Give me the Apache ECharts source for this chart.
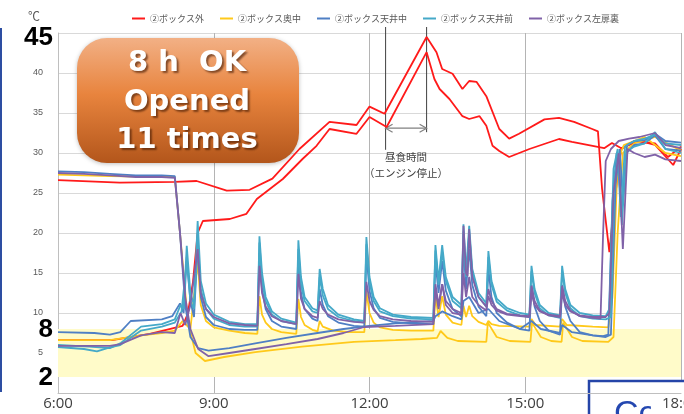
<!DOCTYPE html>
<html>
<head>
<meta charset="utf-8">
<script src="https://cdn.jsdelivr.net/npm/echarts@6.0.0/dist/echarts.min.js"></script>
<style>
html, body { margin: 0; padding: 0; background: #fff; }
#main { width: 684px; height: 414px; }
</style>
</head>
<body>
<div id="main"></div>
<script>
// 温度ログ (時刻[h], ℃)
var hourTicks = [6, 9, 12, 15, 18];
var timeLabels = ['6:00', '9:00', '12:00', '15:00', '18:00'];
var seriesNames = ['②ボックス外', '②ボックス奥中', '②ボックス天井中', '②ボックス天井前', '②ボックス左扉裏'];
var okBand = [2, 8];
var lunchStart = 12.31, lunchEnd = 13.10;

var redA = [[6,26.6],[7.19,26.3],[8.25,26.4],[8.67,26.5],[9.25,25.3],[9.69,25.4],[10.13,26.8],[10.65,30.5],[11.23,33.9],[11.75,33.5],[12.0,35.8],[12.29,34.9],[13.10,44.5],[13.29,42.6],[13.40,40.5],[13.60,39.9],[13.79,38.0],[13.92,39.0],[14.06,38.9],[14.25,37.1],[14.5,33.0],[14.69,31.8],[14.88,32.4],[15.37,34.2],[15.65,34.4],[15.94,33.9],[16.29,33.0],[16.40,32.7],[16.48,25.5],[16.62,17.6],[16.72,24],[16.85,30.5],[17.1,31.5],[17.5,31.2],[17.75,29.5],[18,30.8]];
var redB = [[6,6.6],[7.04,6.6],[7.77,7.4],[8.40,8.4],[8.50,9.9],[8.60,13.9],[8.69,20.0],[8.79,21.5],[9.31,21.75],[9.63,22.4],[9.83,24.25],[10.33,26.75],[10.71,29.25],[10.98,30.9],[11.23,33.0],[11.75,32.4],[12.0,34.5],[12.33,33.25],[13.10,42.6],[13.25,39.25],[13.35,38.0],[13.54,36.75],[13.79,34.6],[13.92,34.25],[14.12,34.6],[14.25,33.4],[14.37,30.9],[14.5,30.25],[14.69,29.5],[15.08,30.5],[15.65,31.75],[15.90,31.4],[16.52,30.6],[16.67,31.25],[16.85,30.6],[17.2,31.5],[17.5,31.0],[17.85,28.5],[18,30.5]];

var yellowA = [[6,6.6],[7.0,6.6],[7.6,7.2],[8.0,7.5],[8.25,7.8],[8.4,9.0],[8.55,8.0],[8.69,16.4],[8.75,11.0],[8.85,9.0],[9.0,8.2],[9.3,7.8],[9.6,7.5],[9.84,7.4],[9.88,12.1],[9.93,9.8],[10.0,8.8],[10.12,8.0],[10.3,7.6],[10.59,7.4],[10.63,11.75],[10.68,9.5],[10.75,8.5],[10.9,7.9],[11.0,7.7],[11.04,9.0],[11.1,8.3],[11.3,7.8],[11.6,7.6],[11.9,7.6],[11.94,12.75],[12.0,10.0],[12.08,8.8],[12.2,8.2],[12.45,7.9],[12.8,7.8],[13.23,7.8],[13.27,12.1],[13.33,9.5],[13.40,12.1],[13.47,9.8],[13.6,8.8],[13.77,8.5],[13.81,10.9],[13.86,9.5],[13.92,10.9],[13.98,9.6],[14.1,8.9],[14.25,8.5],[14.29,9.0],[14.35,8.6],[14.5,8.4],[15.08,8.3],[15.12,9.25],[15.2,8.5],[15.67,8.3],[15.71,9.25],[15.8,8.5],[16.3,8.3],[16.6,8.2],[16.68,12],[16.78,29],[16.9,31],[17.1,31.5],[17.3,32],[17.5,31],[17.7,30],[18,29.6]];
var yellowB = [[6,27.3],[7.0,27.1],[8.25,27.0],[8.35,20],[8.5,9],[8.65,5],[8.83,4.0],[9.2,4.5],[9.8,5.1],[10.7,5.8],[11.7,6.4],[12.5,6.6],[13.0,6.75],[13.3,6.9],[13.37,7.75],[13.5,6.9],[13.7,6.5],[14.25,6.4],[14.28,8.8],[14.45,7.0],[14.7,6.5],[15.1,6.4],[15.13,8.8],[15.3,7.0],[15.5,6.5],[15.7,6.4],[15.73,8.8],[15.9,7.0],[16.1,6.5],[16.6,6.4],[16.7,7],[16.78,20],[16.88,30],[17.1,31.2],[17.5,32],[18,30.3]];

var blueA = [[6,27.7],[6.5,27.6],[7.0,27.4],[7.5,27.2],[8.0,27.2],[8.25,27.1],[8.35,20],[8.45,11],[8.55,7],[8.7,5.6],[8.9,5.3],[9.3,5.6],[9.8,6.2],[10.4,6.9],[11.0,7.5],[11.5,8.0],[12.0,8.4],[12.5,8.7],[13.23,9.0],[13.27,9.6],[13.4,10.2],[13.6,9.6],[13.77,9.2],[13.81,11.5],[13.92,12],[14.1,10],[14.29,10.5],[14.5,9.0],[14.9,8.0],[15.12,9.0],[15.3,8.0],[15.67,7.5],[15.71,8.5],[15.9,7.6],[16.3,7.2],[16.5,7.1],[16.6,7.3],[16.68,24],[16.76,30],[16.86,23],[16.95,30],[17.1,31.0],[17.3,31.2],[17.5,32.2],[17.7,30.5],[18,30.3]];
var blueB = [[6,7.6],[6.7,7.5],[7.0,7.3],[7.2,7.6],[7.4,9.0],[8.0,9.2],[8.2,9.6],[8.35,11.2],[8.42,10.0],[8.48,17.0],[8.55,11.5],[8.62,9.5],[8.69,18.5],[8.75,12.0],[8.85,9.5],[9.0,8.5],[9.3,8.0],[9.6,7.9],[9.84,7.9],[9.88,17.5],[9.93,13.0],[10.0,10.5],[10.12,9.0],[10.3,8.3],[10.59,8.0],[10.63,17.0],[10.68,12.5],[10.75,10.5],[10.9,9.3],[11.0,9.0],[11.04,13.0],[11.1,11.0],[11.2,9.6],[11.4,8.8],[11.7,8.4],[11.9,8.3],[11.94,17.5],[12.0,12.8],[12.08,10.6],[12.2,9.4],[12.45,8.9],[12.8,8.7],[13.23,8.6],[13.27,16.5],[13.33,12.5],[13.40,16.5],[13.47,12.8],[13.6,10.5],[13.77,9.6],[13.81,18.5],[13.86,13.0],[13.92,18.0],[13.98,13.5],[14.1,10.8],[14.25,9.6],[14.29,15.5],[14.35,12.0],[14.45,10.0],[14.65,8.8],[14.9,8.0],[15.08,7.8],[15.12,13.5],[15.18,10.8],[15.28,9.0],[15.45,7.8],[15.67,7.3],[15.71,13.5],[15.77,10.8],[15.87,9.0],[16.05,7.6],[16.3,7.2],[16.55,7.0],[16.65,7.3],[16.74,26],[16.82,30.5],[16.88,24],[16.96,31],[17.1,31.5],[17.3,31.6],[17.5,32.4],[17.7,31.5],[18,31.3]];

var tealA = [[6,6.0],[6.6,5.8],[7.0,5.6],[7.2,6.2],[7.6,8.3],[8.0,8.6],[8.25,9.2],[8.36,11.0],[8.42,10.5],[8.48,18.4],[8.55,12.5],[8.62,11.0],[8.69,21.5],[8.75,14.0],[8.85,11.2],[9.0,9.8],[9.3,8.9],[9.6,8.6],[9.84,8.6],[9.88,19.6],[9.93,15.0],[10.0,12.0],[10.12,10.2],[10.3,9.3],[10.59,8.8],[10.63,19.1],[10.68,14.5],[10.75,12.0],[10.9,10.6],[11.0,10.3],[11.04,15.5],[11.1,13.0],[11.2,11.0],[11.4,9.8],[11.7,9.2],[11.9,9.0],[11.94,19.5],[12.0,14.5],[12.08,12.0],[12.2,10.6],[12.45,9.8],[12.8,9.5],[13.23,9.4],[13.27,18.5],[13.33,14.0],[13.40,18.5],[13.47,14.5],[13.6,12.0],[13.77,11.0],[13.81,21.1],[13.86,15.0],[13.92,20.9],[13.98,15.5],[14.1,12.5],[14.25,11.2],[14.29,17.75],[14.35,14.0],[14.45,11.8],[14.65,10.6],[14.9,10.0],[15.08,9.8],[15.12,15.9],[15.18,13.0],[15.28,11.0],[15.45,10.0],[15.67,9.7],[15.71,15.9],[15.77,13.0],[15.87,11.0],[16.05,10.0],[16.3,9.7],[16.55,9.6],[16.62,10.5],[16.7,28],[16.78,30.5],[16.84,22],[16.92,30.8],[17.1,31.5],[17.3,31.8],[17.5,32.3],[17.7,31.2],[18,31.0]];
var tealB = [[6,5.75],[6.5,5.5],[6.75,5.2],[7.0,5.7],[7.2,6.0],[7.6,7.8],[8.0,8.3],[8.25,8.8],[8.38,10.2],[8.48,16.5],[8.55,11.5],[8.62,10.5],[8.69,19.0],[8.75,13.0],[8.85,10.5],[9.0,9.3],[9.3,8.5],[9.6,8.3],[9.84,8.3],[9.88,18.8],[9.93,14.0],[10.0,11.5],[10.12,9.8],[10.3,9.0],[10.59,8.6],[10.63,18.0],[10.68,13.5],[10.75,11.5],[10.9,10.2],[11.0,10.0],[11.04,14.5],[11.1,12.2],[11.2,10.5],[11.4,9.5],[11.7,9.0],[11.9,8.8],[11.94,18.6],[12.0,13.8],[12.08,11.5],[12.2,10.2],[12.45,9.6],[12.8,9.3],[13.23,9.2],[13.27,17.8],[13.33,13.5],[13.40,17.6],[13.47,14.0],[13.6,11.5],[13.77,10.6],[13.81,20.2],[13.86,14.5],[13.92,20.0],[13.98,15.0],[14.1,12.0],[14.25,10.8],[14.29,17.0],[14.35,13.5],[14.45,11.4],[14.65,10.3],[14.9,9.7],[15.08,9.5],[15.12,15.2],[15.18,12.5],[15.28,10.6],[15.45,9.7],[15.67,9.4],[15.71,15.2],[15.77,12.5],[15.87,10.6],[16.05,9.6],[16.3,9.3],[16.55,9.2],[16.65,9.5],[16.72,27],[16.8,30],[16.86,21],[16.95,30.2],[17.1,30.8],[17.3,31.2],[17.5,32.6],[17.7,30.5],[18,30.0]];

var purpleA = [[6,27.5],[6.5,27.4],[7.0,27.2],[7.5,27.0],[8.0,27.0],[8.25,26.9],[8.35,20],[8.45,12],[8.55,8],[8.7,5.5],[8.9,4.6],[9.3,5.0],[9.8,5.5],[10.4,6.1],[11.0,6.75],[11.5,7.5],[11.9,8.25],[12.5,8.4],[13.23,8.6],[13.27,13.0],[13.33,10.5],[13.40,13.6],[13.47,11.0],[13.6,10.0],[13.77,9.8],[13.81,20.9],[13.86,15.0],[13.89,14.6],[13.92,20.5],[13.98,14.5],[14.1,12.0],[14.25,10.8],[14.29,13.0],[14.35,11.5],[14.45,10.5],[14.65,9.9],[14.9,9.7],[15.08,9.6],[15.12,12.5],[15.18,11.0],[15.28,10.2],[15.45,9.8],[15.67,9.6],[15.71,12.5],[15.77,11.0],[15.87,10.2],[16.05,9.7],[16.3,9.5],[16.55,9.5],[16.62,10],[16.7,25],[16.8,30],[16.88,18],[16.97,30.5],[17.1,30.0],[17.3,29.5],[17.5,29.8],[17.7,29.2],[18,29.0]];
var purpleB = [[6,5.9],[7.0,5.9],[7.2,6.1],[7.6,7.2],[8.0,7.6],[8.25,7.5],[8.36,10.0],[8.45,8.5],[8.55,11],[8.69,18.0],[8.75,12.5],[8.85,10.5],[9.0,9.5],[9.3,8.7],[9.6,8.5],[9.84,8.4],[9.88,15.9],[9.93,12.5],[10.0,10.8],[10.12,9.6],[10.3,9.0],[10.59,8.6],[10.63,14.9],[10.68,11.8],[10.75,10.5],[10.9,9.6],[11.0,9.4],[11.04,11.5],[11.1,10.5],[11.2,9.8],[11.4,9.2],[11.7,8.9],[11.9,8.8],[11.94,13.9],[12.0,11.5],[12.08,10.4],[12.2,9.6],[12.45,9.2],[12.8,9.0],[13.23,8.9],[13.27,13.6],[13.33,11.0],[13.40,13.6],[13.47,11.5],[13.6,10.5],[13.77,10.0],[13.81,15.0],[13.86,12.0],[13.92,14.5],[13.98,12.0],[14.1,11.0],[14.25,10.3],[14.29,12.1],[14.35,11.0],[14.45,10.3],[14.65,9.8],[14.9,9.6],[15.08,9.5],[15.12,13.4],[15.18,11.5],[15.28,10.3],[15.45,9.7],[15.67,9.5],[15.71,13.4],[15.77,11.5],[15.87,10.3],[16.05,9.6],[16.3,9.4],[16.45,9.3],[16.5,20],[16.55,29],[16.65,30.5],[16.8,31.5],[17.0,31.8],[17.2,32.0],[17.5,32.5],[17.7,31.0],[18,30.6]];

var colors = ['#FF1A1A', '#FFC91A', '#4F7FC4', '#45A9C8', '#8062A8'];

function line(idx, data) {
    return {
        name: seriesNames[idx],
        type: 'line',
        data: data,
        symbol: 'none',
        showSymbol: false,
        animation: false,
        lineStyle: { color: colors[idx], width: 1.8 },
        itemStyle: { color: colors[idx] }
    };
}

var series = [
    line(0, redA), line(0, redB),
    line(1, yellowA), line(1, yellowB),
    line(2, blueA), line(2, blueB),
    line(3, tealA), line(3, tealB),
    line(4, purpleA), line(4, purpleB)
];
// 2℃〜8℃ の帯
series[0].markArea = {
    silent: true,
    itemStyle: { color: '#FFFBC9' },
    data: [[{ yAxis: okBand[0] }, { yAxis: okBand[1] }]]
};

var chart = echarts.init(document.getElementById('main'));
chart.setOption({
    backgroundColor: '#fff',
    animation: false,
    grid: { left: 58, right: 3, top: 33, bottom: 21 },
    legend: {
        data: seriesNames,
        top: 9,
        left: 127,
        icon: 'rect',
        itemWidth: 13,
        itemHeight: 2,
        itemGap: 16,
        textStyle: { fontSize: 9, color: '#595959', fontFamily: 'Noto Sans CJK JP' }
    },
    xAxis: {
        type: 'value',
        min: 6, max: 18, interval: 3,
        axisLine: { show: true, lineStyle: { color: '#BFBFBF' } },
        axisTick: { show: false },
        axisLabel: { show: false },
        splitLine: { show: true, lineStyle: { color: '#B4B4B4', width: 1 } }
    },
    yAxis: {
        type: 'value',
        min: 0, max: 45, interval: 5,
        axisLine: { show: true, lineStyle: { color: '#BFBFBF' } },
        axisTick: { show: false },
        axisLabel: {
            fontSize: 9, color: '#595959', margin: 15,
            formatter: function (v) { return (v === 0 || v === 45) ? '' : v; }
        },
        splitLine: { lineStyle: { color: '#D9D9D9', width: 1 } }
    },
    series: series
});

// 注記 (ピクセル位置は軸から算出)
function px(t, v) { return chart.convertToPixel({ gridIndex: 0 }, [t, v]); }
var g = [];
var ls = px(lunchStart, 33.1), le = px(lunchEnd, 33.1);
var gridTop = px(6, 45)[1];
g.push({ type: 'line', shape: { x1: ls[0], y1: gridTop - 6, x2: ls[0], y2: px(6, 30.4)[1] }, style: { stroke: '#404040', lineWidth: 1 } });
g.push({ type: 'line', shape: { x1: le[0], y1: gridTop - 6, x2: le[0], y2: px(6, 32.6)[1] }, style: { stroke: '#404040', lineWidth: 1 } });
g.push({ type: 'line', shape: { x1: ls[0], y1: ls[1], x2: le[0], y2: le[1] }, style: { stroke: '#808080', lineWidth: 1.2 } });
g.push({ type: 'polyline', shape: { points: [[ls[0] + 7, ls[1] - 4], [ls[0], ls[1]], [ls[0] + 7, ls[1] + 4]] }, style: { stroke: '#808080', lineWidth: 1.2, fill: null } });
g.push({ type: 'polyline', shape: { points: [[le[0] - 7, le[1] - 4], [le[0], le[1]], [le[0] - 7, le[1] + 4]] }, style: { stroke: '#808080', lineWidth: 1.2, fill: null } });
var mid = (ls[0] + le[0]) / 2;
g.push({ type: 'text', style: { text: '昼食時間', x: mid, y: px(6, 29.5)[1], align: 'center', verticalAlign: 'middle', fontSize: 10.5, fill: '#404040', fontFamily: 'Noto Sans CJK JP' } });
g.push({ type: 'text', style: { text: '（エンジン停止）', x: mid, y: px(6, 27.5)[1], align: 'center', verticalAlign: 'middle', fontSize: 10.5, fill: '#404040', fontFamily: 'Noto Sans CJK JP' } });

// ℃
g.push({ type: 'text', style: { text: '℃', x: 34, y: 16, align: 'center', verticalAlign: 'middle', fontSize: 12, fill: '#595959', fontFamily: 'Noto Sans CJK JP' } });

// 大きい目盛り 45 / 8 / 2
[45, okBand[1], okBand[0]].forEach(function (v) {
    g.push({ type: 'text', style: { text: String(v), x: 53, y: px(6, v)[1] + (v === 45 ? 5 : 1), align: 'right', verticalAlign: 'middle', fontSize: 26, fontWeight: 'bold', fill: '#000', fontFamily: 'Liberation Sans' } });
});

// 左端の青線
g.push({ type: 'rect', shape: { x: 0, y: 28, width: 2, height: 364 }, style: { fill: '#2D4EA2' } });

// 吹き出し
g.push({
    type: 'rect',
    shape: { x: 77, y: 38, width: 222, height: 125, r: 30 },
    style: {
        fill: new echarts.graphic.LinearGradient(0, 0, 0, 1, [
            { offset: 0, color: '#F2B085' },
            { offset: 0.45, color: '#E8843E' },
            { offset: 1, color: '#B3561B' }
        ]),
        shadowBlur: 4, shadowColor: 'rgba(0,0,0,0.25)', shadowOffsetY: 1
    }
});
[['8 h  OK', 63], ['Opened', 102], ['11 times', 140]].forEach(function (r) {
    g.push({ type: 'text', style: { text: r[0], x: 187, y: r[1], align: 'center', verticalAlign: 'middle', fontSize: 29, fontWeight: 'bold', fill: '#fff', fontFamily: 'DejaVu Sans', textShadowColor: 'rgba(60,20,0,0.6)', textShadowBlur: 2, textShadowOffsetX: 2, textShadowOffsetY: 2 } });
});

// 右下の青枠
g.push({ type: 'rect', shape: { x: 589, y: 381, width: 120, height: 60 }, style: { fill: '#fff', stroke: '#2545A8', lineWidth: 2.5 } });
g.push({ type: 'text', style: { text: 'Co', x: 614, y: 398, align: 'left', verticalAlign: 'top', fontSize: 34, fill: '#2447B0', fontFamily: 'Liberation Sans' } });

// 時刻ラベル
hourTicks.forEach(function (h, i) {
    var p = px(h, 0);
    g.push({ type: 'text', style: { text: timeLabels[i], x: p[0], y: p[1] + 11, align: 'center', verticalAlign: 'middle', fontSize: 15, fill: '#404040', fontFamily: 'Open Sans', backgroundColor: '#fff', padding: [3, 11, 2, 11] } });
});

chart.setOption({ graphic: { elements: g } });
</script>
</body>
</html>
